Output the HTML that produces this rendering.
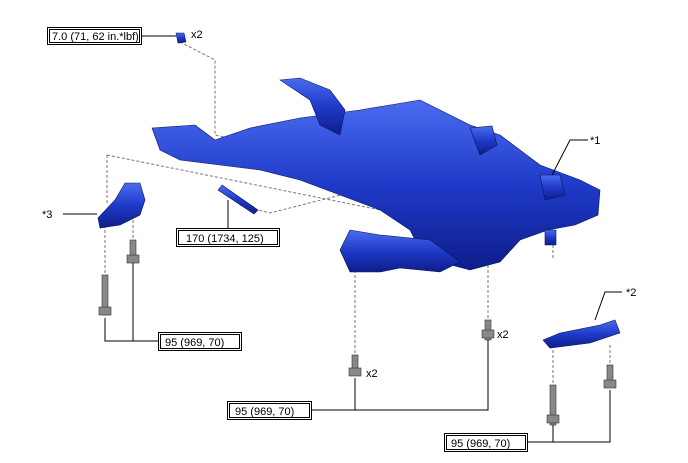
<!DOCTYPE html>
<html><head><meta charset="utf-8"><style>
body{margin:0;background:#fff;}
svg{display:block}
text{font-family:"Liberation Sans",sans-serif;font-size:11px;fill:#000}
</style></head><body>
<svg width="688" height="463" viewBox="0 0 688 463" xmlns="http://www.w3.org/2000/svg">
<defs>
<linearGradient id="b" x1="0" y1="0" x2="0" y2="1">
<stop offset="0" stop-color="#4a6cf0"/><stop offset="0.5" stop-color="#1f3ac8"/><stop offset="1" stop-color="#0d1d8a"/>
</linearGradient>
</defs>
<!-- dashed lines -->
<g stroke="#777" stroke-dasharray="3,2" fill="none" stroke-width="1">
<path d="M180 42 L215 60 L215 135 L240 140"/>
<path d="M107 155 L107 205 M107 155 L420 218 L420 225"/>
<path d="M133 185 L133 240"/>
<path d="M105 225 L105 275"/>
<path d="M240 205 L270 213 L380 185 L420 175"/>
<path d="M355 270 L355 355"/>
<path d="M488 175 L488 320"/>
<path d="M553 245 L553 260"/>
<path d="M553 345 L553 385"/>
<path d="M610 345 L610 365"/>
</g>
<!-- subframe -->
<g fill="url(#b)" stroke="#0a1660" stroke-width="0.6">
<path d="M152 128 L195 125 L215 140 L250 128 L300 118 L360 110 L420 100 L440 110 L470 125 L500 135 L540 165 L580 180 L600 190 L598 215 L575 225 L548 230 L520 240 L500 262 L470 270 L440 262 L420 250 L410 230 L380 210 L340 195 L300 180 L260 170 L220 165 L180 160 L160 150 Z"/>
<path d="M350 230 L380 235 L430 240 L460 262 L440 272 L400 268 L380 272 L350 272 L340 250 Z"/>
<path d="M280 80 L300 78 L330 90 L345 110 L340 135 L320 125 L310 100 Z"/>
<path d="M470 128 L492 126 L497 145 L480 155 Z"/>
<path d="M540 175 L560 175 L565 195 L545 200 Z"/>
<path d="M545 230 L556 230 L556 245 L545 245 Z"/>
<!-- *3 bracket -->
<path d="M98 218 L115 200 L125 183 L140 183 L145 200 L140 215 L120 225 L100 228 Z"/>
<!-- *2 bracket -->
<path d="M543 340 L560 333 L600 325 L615 320 L620 333 L590 343 L550 348 Z"/>
<!-- bolts -->
<path d="M222 185 L258 210 L254 214 L218 190 Z"/>
<path d="M176 33 L184 33 L186 42 L178 43 Z"/>
</g>
<g fill="#888" stroke="#333" stroke-width="0.6">
<rect x="102" y="275" width="6" height="40"/><rect x="99" y="307" width="12" height="8"/>
<rect x="130" y="240" width="6" height="22"/><rect x="127" y="255" width="12" height="8"/>
<rect x="485" y="320" width="6" height="20"/><rect x="482" y="330" width="12" height="8"/>
<rect x="352" y="355" width="6" height="20"/><rect x="349" y="368" width="12" height="8"/>
<rect x="550" y="385" width="6" height="40"/><rect x="547" y="415" width="12" height="8"/>
<rect x="607" y="365" width="6" height="22"/><rect x="604" y="380" width="12" height="8"/>
</g>
<!-- leader lines -->
<g stroke="#000" fill="none" stroke-width="1">
<path d="M141 36 L176 36"/>
<path d="M228 200 L228 228"/>
<path d="M105 318 L105 341 L158 341 M133 263 L133 341"/>
<path d="M355 378 L355 410 L311 410 M488 340 L488 410 L355 410"/>
<path d="M553 425 L553 442 L527 442 M610 390 L610 442 L553 442"/>
<path d="M63 214 L97 214"/>
<path d="M552 175 L570 140 L588 140"/>
<path d="M595 320 L605 292 L622 292"/>
</g>
<!-- boxes -->
<g fill="#fff" stroke="#000" stroke-width="1">
<rect x="47.5" y="27.5" width="94" height="17"/><rect x="49.5" y="29.5" width="90" height="13"/>
<rect x="176.5" y="228.5" width="103" height="18"/><rect x="178.5" y="230.5" width="99" height="14"/>
<rect x="158.5" y="332.5" width="83" height="18"/><rect x="160.5" y="334.5" width="79" height="14"/>
<rect x="227.5" y="401.5" width="84" height="18"/><rect x="229.5" y="403.5" width="80" height="14"/>
<rect x="444.5" y="433.5" width="83" height="18"/><rect x="446.5" y="435.5" width="79" height="14"/>
</g>
<text x="52" y="40">7.0 (71, 62 in.*lbf)</text>
<text x="186" y="242">170 (1734, 125)</text>
<text x="165" y="346">95 (969, 70)</text>
<text x="235" y="415">95 (969, 70)</text>
<text x="451" y="447">95 (969, 70)</text>
<text x="191" y="38" font-size="12">x2</text>
<text x="497" y="338" font-size="12">x2</text>
<text x="366" y="377" font-size="12">x2</text>
<text x="590" y="144" font-size="12">*1</text>
<text x="626" y="296" font-size="12">*2</text>
<text x="42" y="218" font-size="12">*3</text>
</svg>
</body></html>
